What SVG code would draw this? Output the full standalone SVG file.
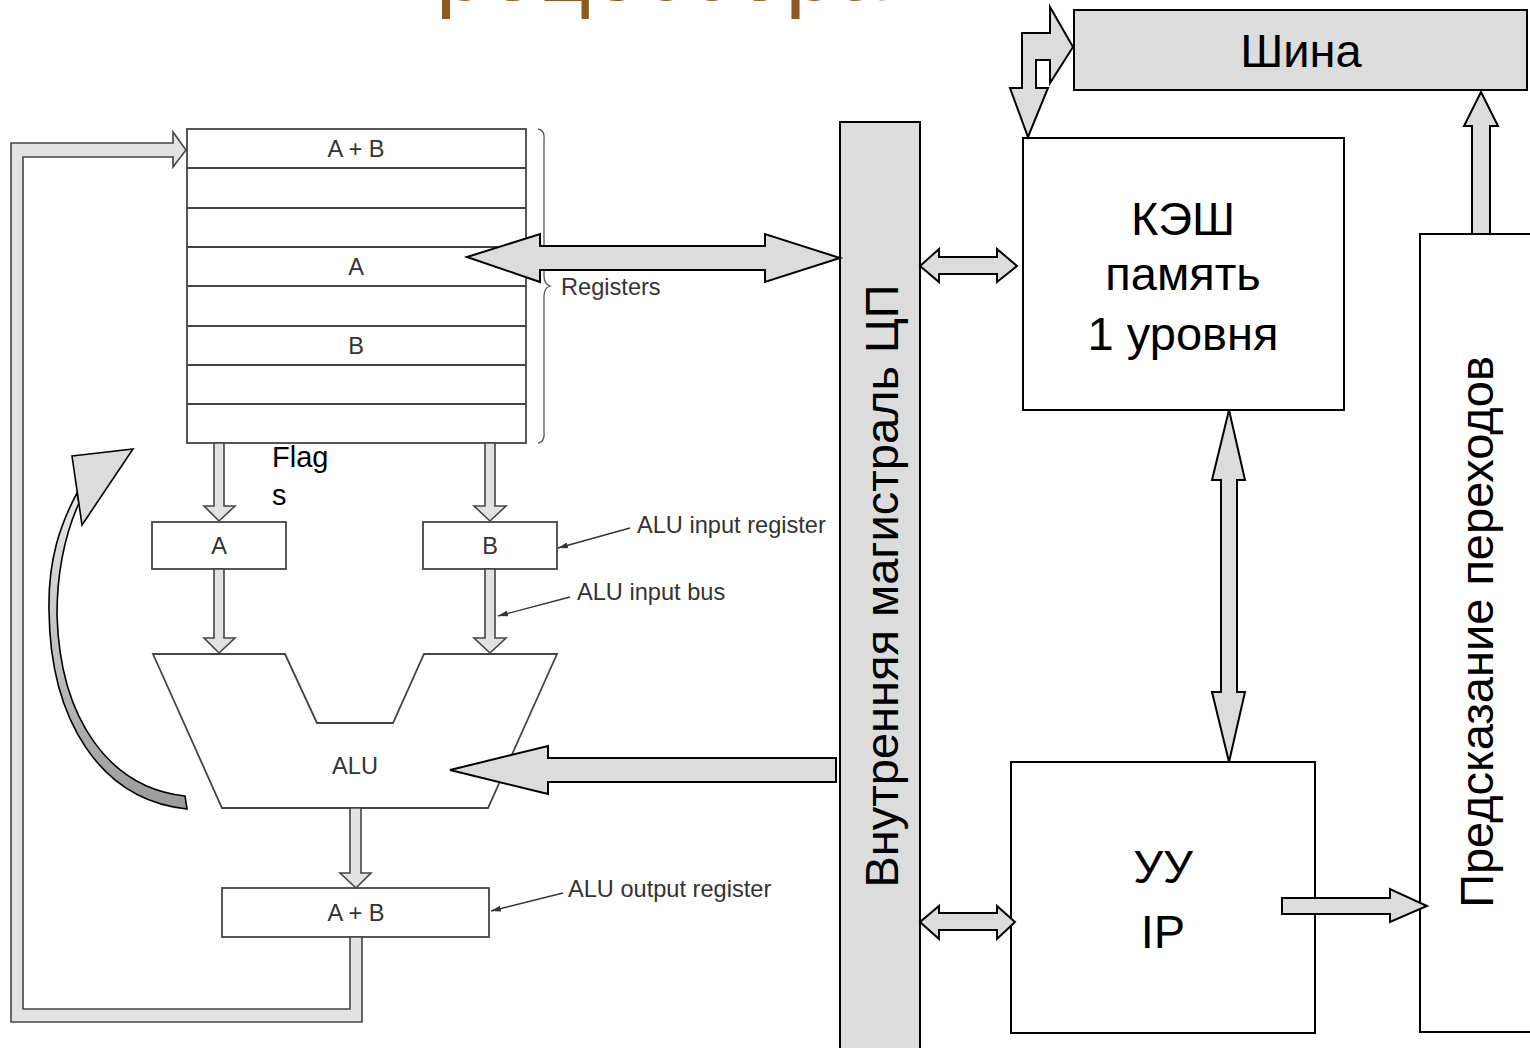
<svg xmlns="http://www.w3.org/2000/svg" width="1530" height="1048" viewBox="0 0 1530 1048">
<style>
.fig{fill:#fff;stroke:#444;stroke-width:1.8}
.fa{fill:#e2e2e2;stroke:#444;stroke-width:1.6}
.ft{font-family:"Liberation Sans",Arial,sans-serif;font-size:23.6px;fill:#333}
.bx{fill:#fff;stroke:#000;stroke-width:2}
.gb{fill:#dcdcdc;stroke:#000;stroke-width:2}
.ga{fill:#dcdcdc;stroke:#000;stroke-width:2;stroke-linejoin:miter}
.bt{font-family:"Liberation Sans",Arial,sans-serif;font-size:47px;fill:#000}
.ptr{stroke:#333;stroke-width:1.4;fill:none;marker-end:url(#ah)}
</style>
<defs>
<marker id="ah" viewBox="0 0 10 6" refX="10" refY="3" markerWidth="10" markerHeight="6" markerUnits="userSpaceOnUse" orient="auto">
<path d="M0,0 L10,3 L0,6 z" fill="#333"/>
</marker>
<linearGradient id="cg" x1="0" y1="0" x2="0" y2="1">
<stop offset="0" stop-color="#e8e8e8"/>
<stop offset="1" stop-color="#9a9a9a"/>
</linearGradient>
</defs>
<rect width="1530" height="1048" fill="#fff"/>

<text x="386" y="0" font-family="Liberation Sans,Arial,sans-serif" font-size="92" fill="#8B5B22">процессора</text>

<g id="registers">
<rect class="fig" x="187" y="129" width="339" height="314"/>
<path class="fig" d="M187,168H526M187,208H526M187,247H526M187,286H526M187,326H526M187,365H526M187,404H526"/>
<text class="ft" x="356" y="157" text-anchor="middle">A + B</text>
<text class="ft" x="356" y="275" text-anchor="middle">A</text>
<text class="ft" x="356" y="354" text-anchor="middle">B</text>
<path d="M538,129 Q545,130 544,140 L544,276 Q544,284 550,286 Q544,288 544,296 L544,432 Q545,442 538,443" fill="none" stroke="#555" stroke-width="1.3"/>
<text class="ft" x="561" y="295">Registers</text>
</g>

<g id="flags">
<text x="272" y="467" font-family="Liberation Sans,Arial,sans-serif" font-size="29" fill="#000">Flag</text>
<text x="272" y="505" font-family="Liberation Sans,Arial,sans-serif" font-size="29" fill="#000">s</text>
</g>

<g id="reg-a"><rect class="fig" x="152" y="522" width="134" height="47"/><text class="ft" x="219" y="554" text-anchor="middle">A</text></g>
<g id="reg-b"><rect class="fig" x="423" y="522" width="134" height="47"/><text class="ft" x="490" y="554" text-anchor="middle">B</text></g>

<g id="alu">
<path class="fig" d="M153,654 L285,654 L317,723 L393,723 L424,654 L557,654 L488,808 L222,808 Z"/>
<text class="ft" x="355" y="774" text-anchor="middle">ALU</text>
</g>

<g id="reg-out"><rect class="fig" x="222" y="888" width="267" height="49"/><text class="ft" x="356" y="921" text-anchor="middle">A + B</text></g>

<g id="labels">
<text class="ft" x="637" y="533">ALU input register</text>
<text class="ft" x="577" y="600">ALU input bus</text>
<text class="ft" x="568" y="897">ALU output register</text>
</g>

<g id="bus-main">
<rect class="gb" x="840" y="122" width="80" height="940"/>
<text class="bt" transform="translate(898,586) rotate(-90)" text-anchor="middle" font-size="48">Внутренняя магистраль ЦП</text>
</g>

<g id="shina">
<rect class="gb" x="1074" y="10" width="453" height="80"/>
<text class="bt" x="1301" y="67" text-anchor="middle" font-size="48">Шина</text>
</g>

<g id="cache">
<rect class="bx" x="1023" y="138" width="321" height="272"/>
<text class="bt" x="1183" y="235" text-anchor="middle">КЭШ</text>
<text class="bt" x="1183" y="290" text-anchor="middle">память</text>
<text class="bt" x="1183" y="350" text-anchor="middle">1 уровня</text>
</g>

<g id="cu">
<rect class="bx" x="1011" y="762" width="304" height="271"/>
<text class="bt" x="1163" y="883" text-anchor="middle" font-size="50">УУ</text>
<text class="bt" x="1163" y="948" text-anchor="middle" font-size="50">IP</text>
</g>

<g id="predictor">
<rect class="bx" x="1420" y="234" width="130" height="798"/>
<text class="bt" transform="translate(1493,632) rotate(-90)" text-anchor="middle" font-size="48.5">Предсказание переходов</text>
</g>

<g id="connectors">
<path class="fa" d="M350,937 L350,1009 L23,1009 L23,157 L173,157 L173,167 L186,150 L173,132 L173,143 L11,143 L11,1022 L362,1022 L362,937 Z"/>
<path class="fa" d="M214,443 L214,506 L204,506 L219,521 L235,506 L224,506 L224,443 Z"/>
<path class="fa" d="M485,443 L485,506 L474,506 L490,521 L506,506 L495,506 L495,443 Z"/>
<path class="fa" d="M214,569 L214,638 L204,638 L219,653 L235,638 L224,638 L224,569 Z"/>
<path class="fa" d="M485,569 L485,638 L474,638 L490,653 L506,638 L495,638 L495,569 Z"/>
<path class="fa" d="M350,808 L350,873 L340,873 L356,888 L371,873 L361,873 L361,808 Z"/>
<path class="ptr" d="M630,528 L558,548"/>
<path class="ptr" d="M570,597 L498,616"/>
<path class="ptr" d="M563,893 L491,911"/>
<path d="M187,809 C100,800 50,720 49,610 C48,560 60,525 77,493 L79,503 C66,532 57,570 57,615 C60,720 110,788 185,796 Z" fill="url(#cg)" stroke="#000" stroke-width="1.6"/>
<path d="M72,456 L133,449 L82,525 Z" fill="#dcdcdc" stroke="#000" stroke-width="1.6"/>
<path class="ga" d="M467,257 L540,234 L540,246 L765,246 L765,234 L840,258 L765,282 L765,270 L540,270 L540,282 Z"/>
<path class="ga" d="M450,770 L548,746 L548,758 L836,758 L836,782 L548,782 L548,794 Z"/>
<path class="ga" d="M920,266 L939,249 L939,257 L997,257 L997,249 L1017,266 L997,282 L997,274 L939,274 L939,282 Z"/>
<path class="ga" d="M920,922 L939,906 L939,913 L997,913 L997,906 L1015,922 L997,939 L997,930 L939,930 L939,939 Z"/>
<path class="ga" d="M1229,410 L1245,480 L1237,480 L1237,692 L1245,692 L1229,762 L1212,692 L1221,692 L1221,480 L1212,480 Z"/>
<path class="ga" d="M1282,898 L1390,898 L1390,889 L1427,906 L1390,922 L1390,914 L1282,914 Z"/>
<path class="ga" d="M1481,92 L1498,126 L1490,126 L1490,234 L1472,234 L1472,126 L1464,126 Z"/>
<path class="ga" d="M1073,47 L1050,83 L1050,60 L1036,60 L1036,88 L1048,88 L1028,137 L1010,88 L1022,88 L1022,33 L1050,33 L1050,7 Z"/>
</g>
</svg>
